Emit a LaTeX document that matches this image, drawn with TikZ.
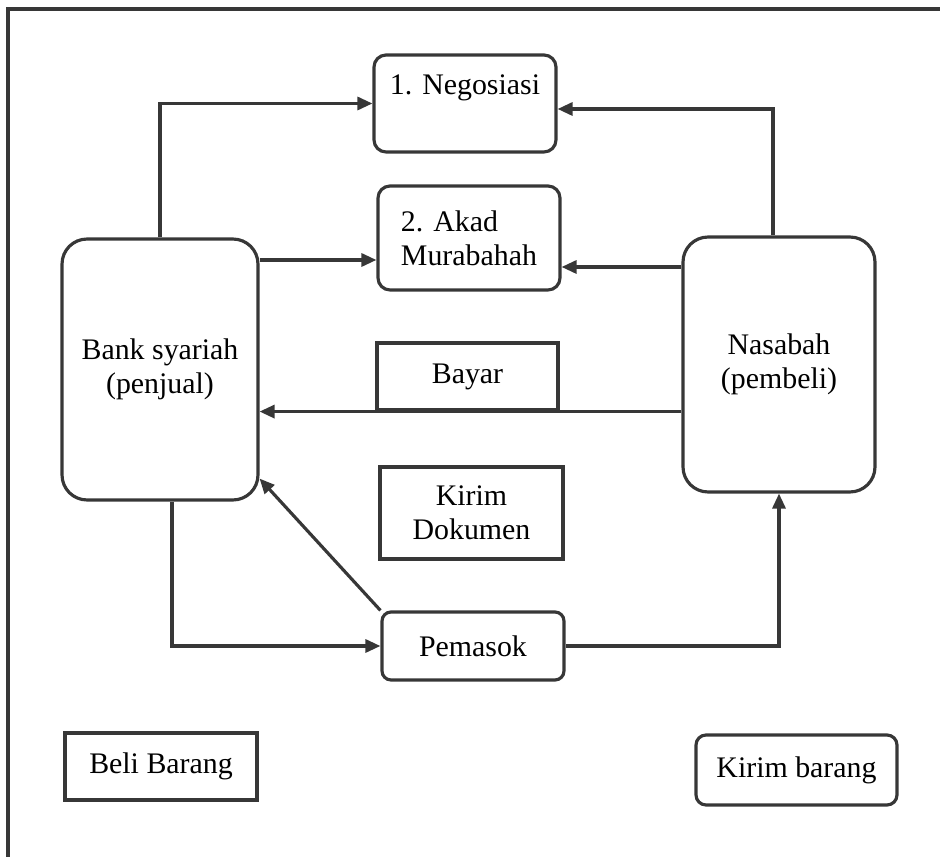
\documentclass[tikz,border=0pt]{standalone}
\usepackage{fontspec}
\setmainfont{Liberation Serif}
\usepackage{xcolor}
\definecolor{linegray}{RGB}{55, 55, 55}
\usetikzlibrary{arrows.meta,positioning,calc}

\begin{document}
\begin{tikzpicture}[
    x=0.02cm, y=-0.02cm,
    box/.style={
        rectangle,
        draw=linegray,
        line width=1.8pt,
        inner sep=0pt,
        align=center,
        font=\fontsize{17}{19.5}\selectfont
    },
    party/.style={box, rounded corners=0.5cm, minimum width=3.92cm, minimum height=5.2cm},
    stepbox/.style={box, rounded corners=0.24cm, minimum width=3.64cm},
    plainbox/.style={box, minimum width=3.64cm},
    flow/.style={draw=linegray, line width=1.8pt, -{Triangle[length=0.3cm,width=0.26cm]}}
]
    \useasboundingbox (0,0) rectangle (940,857);

    % Frame
    \draw[linegray, line width=1.8pt] (940,9) -- (8,9) -- (8,857);

    % Parties
    \node[party, minimum width=3.92cm, minimum height=5.22cm] (bank) at (160,369.5) {Bank syariah\\(penjual)};
    \node[party, minimum width=3.84cm, minimum height=5.1cm] (nasabah) at (779,364.5) {Nasabah\\(pembeli)};

    % Steps
    \node[stepbox, minimum height=1.94cm, text height=0.8cm, text depth=1.14cm] (nego) at (465,103.5) {1. Negosiasi};
    \node[stepbox, minimum height=2.08cm, align=left] (akad) at (469,238) {2. Akad\\Murabahah};
    \node[plainbox, minimum width=3.62cm, minimum height=1.34cm] (bayar) at (467.5,376.5) {Bayar};
    \node[plainbox, minimum width=3.66cm, minimum height=1.84cm] (dokumen) at (471.5,513) {Kirim\\Dokumen};
    \node[stepbox, rounded corners=0.18cm, minimum height=1.36cm] (pemasok) at (473,646) {Pemasok};

    % Labels below
    \node[plainbox, minimum width=3.84cm, minimum height=1.34cm] (beli) at (161,766.5) {Beli Barang};
    \node[stepbox, rounded corners=0.2cm, minimum width=4.02cm, minimum height=1.4cm] (kirim) at (796.5,770) {Kirim barang};

    % Connectors
    \draw[flow] (bank.north) |- (nego.west);
    \draw[flow] ([xshift=-0.12cm]nasabah.north) |- ([yshift=-0.11cm]nego.east);
    \draw[flow] ([yshift=-0.44cm]akad.west -| bank.east) -- ([yshift=-0.44cm]akad.west);
    \draw[flow] ([yshift=-0.58cm]akad.east -| nasabah.west) -- ([yshift=-0.58cm]akad.east);
    \draw[flow] (nasabah.west |- bayar.south) -- (bank.east |- bayar.south);
    \draw[flow] ([xshift=0.24cm]bank.south) |- (pemasok.west);
    \draw[flow] (pemasok.north west) -- ([yshift=0.46cm]bank.south east);
    \draw[flow] (pemasok.east) -| (nasabah.south);
\end{tikzpicture}
\end{document}
